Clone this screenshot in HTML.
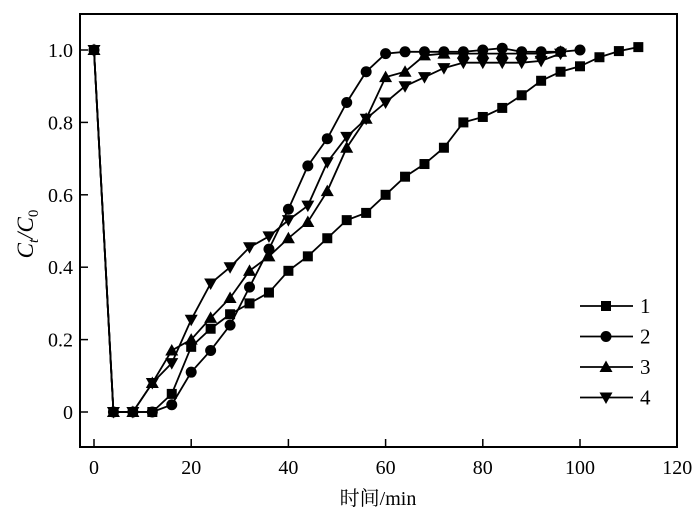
<!DOCTYPE html>
<html><head><meta charset="utf-8"><style>
html,body{margin:0;padding:0;background:#fff;}
svg{display:block;}
</style></head><body>
<svg id="s" width="700" height="519" xmlns="http://www.w3.org/2000/svg" font-family="'Liberation Serif', serif">
<rect x="80" y="14" width="597" height="433" fill="none" stroke="#000" stroke-width="2"/>
<g id="ticks" stroke="#000" stroke-width="1.5"></g>
<g id="lbl" font-size="20" font-family="'Liberation Serif', serif"></g>
<text x="378" y="505" font-size="20" text-anchor="middle" font-family="'Liberation Serif', serif"><tspan font-family="'Noto Serif CJK SC','Noto Sans CJK SC',serif">时间</tspan>/min</text>
<text transform="translate(33,234) rotate(-90)" font-size="23" text-anchor="middle" font-style="italic" font-family="'Liberation Serif', serif">C<tspan font-size="15" dy="5">t</tspan><tspan dy="-5">/C</tspan><tspan font-size="15" dy="5" font-style="normal">0</tspan></text>
<g id="data"></g>
<g id="leg" font-family="'Liberation Serif', serif"></g>
</svg>
<script>
const NS="http://www.w3.org/2000/svg";
const X=t=>94+t*4.86, Y=v=>412-v*362;
function el(p,n,a,txt){const e=document.createElementNS(NS,n);for(const k in a)e.setAttribute(k,a[k]);if(txt!=null)e.textContent=txt;p.appendChild(e);return e;}
const tk=document.getElementById('ticks'),lb=document.getElementById('lbl');
for(let t=0;t<=120;t+=20){ if(t<120) el(tk,'line',{x1:X(t),x2:X(t),y1:447,y2:439}); el(lb,'text',{x:X(t),y:474,'text-anchor':'middle'},String(t));}
[0,0.2,0.4,0.6,0.8,1.0].forEach(v=>{el(tk,'line',{x1:80,x2:88,y1:Y(v),y2:Y(v)});el(lb,'text',{x:73,y:Y(v)+7,'text-anchor':'end'},v===0?'0':v.toFixed(1));});
const S=[
['sq',[1,0,0,0,0.05,0.18,0.23,0.27,0.30,0.33,0.39,0.43,0.48,0.53,0.55,0.60,0.65,0.685,0.73,0.80,0.815,0.84,0.875,0.915,0.94,0.955,0.98,0.997,1.008]],
['ci',[1,0,0,0,0.02,0.11,0.17,0.24,0.345,0.45,0.56,0.68,0.755,0.855,0.94,0.99,0.995,0.995,0.995,0.995,1.0,1.005,0.995,0.995,0.995,1.0]],
['up',[1,0,0,0.08,0.17,0.20,0.26,0.315,0.39,0.43,0.48,0.525,0.61,0.73,0.81,0.925,0.94,0.985,0.99,0.99,0.99,0.99,0.99,0.99,0.995]],
['dn',[1,0,0,0.08,0.135,0.255,0.355,0.40,0.455,0.485,0.53,0.57,0.69,0.76,0.81,0.855,0.90,0.925,0.95,0.965,0.965,0.965,0.965,0.97,0.99]]];
function mk(g,type,x,y){
 if(type==='sq')el(g,'rect',{x:x-5,y:y-5,width:10,height:10});
 else if(type==='ci')el(g,'circle',{cx:x,cy:y,r:5.5});
 else if(type==='up')el(g,'polygon',{points:`${x},${y-6.5} ${x-6.5},${y+5} ${x+6.5},${y+5}`});
 else el(g,'polygon',{points:`${x},${y+6.5} ${x-6.5},${y-5} ${x+6.5},${y-5}`});
}
const d=document.getElementById('data');
S.forEach(([t,v])=>{const pts=v.map((y,i)=>[X(i*4),Y(y)]);
 el(d,'polyline',{points:pts.map(p=>p.join(',')).join(' '),fill:'none',stroke:'#000','stroke-width':1.8});
 pts.forEach(p=>mk(d,t,p[0],p[1]));});
const lg=document.getElementById('leg');
['sq','ci','up','dn'].forEach((t,i)=>{const y=306+i*30.5;
 el(lg,'line',{x1:580,x2:633,y1:y,y2:y,stroke:'#000','stroke-width':1.8});mk(lg,t,606,y);
 el(lg,'text',{x:640,y:y+7,'font-size':21},String(i+1));});
</script>
</body></html>
